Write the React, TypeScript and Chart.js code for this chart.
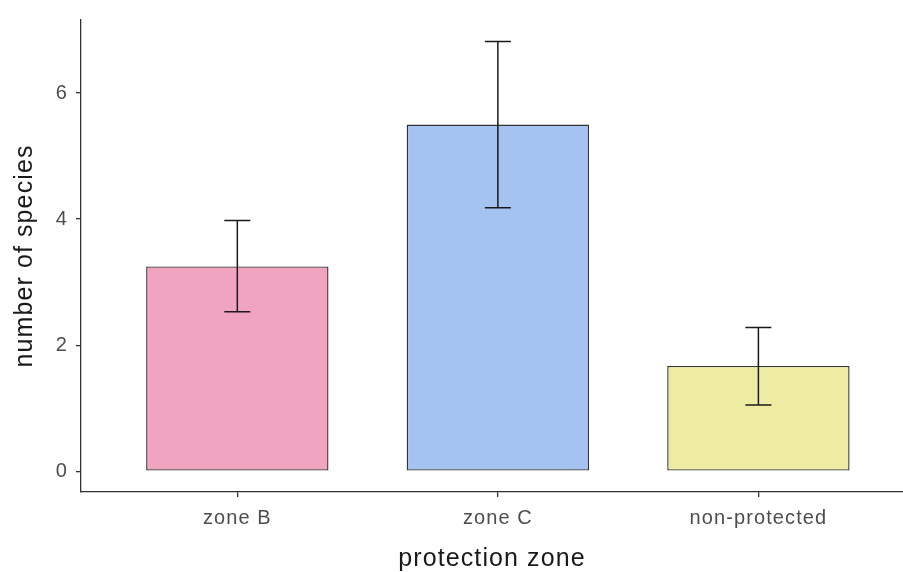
import React, { useEffect, useRef } from "react";
import { Chart, registerables } from "chart.js";

Chart.register(...registerables);

const categories = ["zone B", "zone C", "non-protected"];
const means = [3.25, 5.5, 1.67];
const lower = [2.53, 4.18, 1.05];
const upper = [3.98, 6.82, 2.28];
const fills = ["#f0a4c0", "#a5c3f0", "#eeeca2"];
const yTicks = [0, 2, 4, 6];

const errorBarPlugin = {
  id: "errorBars",
  beforeDraw(chart: any) {
    chart.ctx.letterSpacing = "1.1px";
  },
  afterDatasetsDraw(chart: any) {
    const { ctx, scales } = chart;
    const xs = scales.x;
    const ys = scales.y;
    ctx.save();
    ctx.strokeStyle = "#1a1a1a";
    ctx.lineWidth = 1.5;
    for (let i = 0; i < means.length; i++) {
      const x = xs.getPixelForValue(i);
      const yl = ys.getPixelForValue(lower[i]);
      const yu = ys.getPixelForValue(upper[i]);
      const cap = 13;
      ctx.beginPath();
      ctx.moveTo(x, yl);
      ctx.lineTo(x, yu);
      ctx.moveTo(x - cap, yl);
      ctx.lineTo(x + cap, yl);
      ctx.moveTo(x - cap, yu);
      ctx.lineTo(x + cap, yu);
      ctx.stroke();
    }
    ctx.restore();
  },
  afterDraw(chart: any) {
    chart.ctx.letterSpacing = "0px";
  },
};

export default function App() {
  const ref = useRef<HTMLCanvasElement>(null);
  useEffect(() => {
    if (!ref.current) return;
    const font = "'Liberation Sans', Arial, Helvetica, sans-serif";
    const chart = new Chart(ref.current, {
      type: "bar",
      data: {
        datasets: [
          {
            data: means.map((v, i) => ({ x: i, y: v })),
            backgroundColor: fills,
            borderColor: "#333333",
            borderWidth: 1.4,
            borderSkipped: false,
            barPercentage: 0.7,
            categoryPercentage: 1,
          },
        ],
      },
      options: {
        responsive: false,
        animation: false,
        layout: { padding: { top: 18, right: 0, left: 0, bottom: 0 } },
        plugins: { legend: { display: false }, tooltip: { enabled: false } },
        scales: {
          x: {
            type: "linear",
            min: -0.6,
            max: 2.555,
            offset: false,
            afterBuildTicks: (s: any) => {
              s.ticks = categories.map((_, i) => ({ value: i }));
            },
            afterFit: (s: any) => {
              s.height = 80;
            },
            ticks: {
              callback: (v: any) => categories[v as number] ?? "",
              color: "#4d4d4d",
              font: { family: font, size: 20 },
              padding: 9,
              maxRotation: 0,
              autoSkip: false,
            },
            grid: {
              display: true,
              offset: false,
              drawOnChartArea: false,
              drawTicks: true,
              tickLength: 5,
              color: "#333333",
              lineWidth: 1.3,
            },
            border: { display: true, color: "#333333", width: 1.3 },
            title: {
              display: true,
              text: "protection zone",
              color: "#1a1a1a",
              font: { family: font, size: 25 },
              padding: { top: 0, bottom: -2 },
            },
          },
          y: {
            type: "linear",
            min: -0.33,
            max: 7.16,
            afterBuildTicks: (s: any) => {
              s.ticks = yTicks.map((v) => ({ value: v }));
            },
            afterFit: (s: any) => {
              s.width = 81;
            },
            ticks: {
              color: "#4d4d4d",
              font: { family: font, size: 20 },
              padding: 8,
            },
            grid: {
              display: true,
              drawOnChartArea: false,
              drawTicks: true,
              tickLength: 5,
              color: "#333333",
              lineWidth: 1.3,
            },
            border: { display: true, color: "#333333", width: 1.3 },
            title: {
              display: true,
              text: "number of species",
              color: "#1a1a1a",
              font: { family: font, size: 25 },
              padding: { top: 10, bottom: 0 },
            },
          },
        },
      },
      plugins: [errorBarPlugin],
    } as any);
    return () => chart.destroy();
  }, []);
  return (
    <div style={{ position: "fixed", left: 0, top: 0, width: 903, height: 572, background: "#fff" }}>
      <canvas ref={ref} width={903} height={572} style={{ display: "block" }} />
    </div>
  );
}
